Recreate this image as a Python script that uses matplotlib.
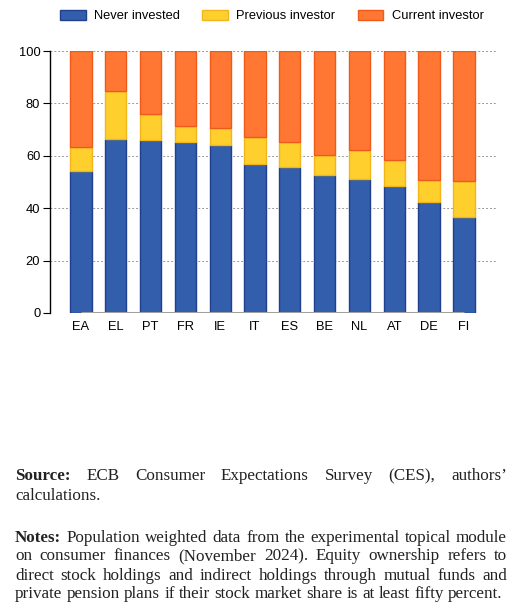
import matplotlib.pyplot as plt
import numpy as np
from matplotlib.patches import Patch

# Данные (доли респондентов, %)
countries = ["EA", "EL", "PT", "FR", "IE", "IT", "ES", "BE", "NL", "AT", "DE", "FI"]
never_invested = [54.3, 66.5, 66.2, 65.3, 64.2, 57.0, 55.9, 52.8, 51.3, 48.6, 42.5, 36.6]
previous_investor = [8.9, 18.1, 9.9, 5.9, 6.3, 10.0, 9.5, 7.4, 11.0, 9.7, 8.1, 13.7]
current_investor = [36.8, 15.4, 23.9, 28.8, 29.5, 33.0, 34.6, 39.8, 37.7, 41.7, 49.4, 49.7]
series_names = ["Never invested", "Previous investor", "Current investor"]

source_lines = [
    ("Source:", "ECB Consumer Expectations Survey (CES), authors\u2019"),
    (None, "calculations."),
]
notes_lines = [
    ("Notes:", "Population weighted data from the experimental topical module"),
    (None, "on consumer finances (November 2024). Equity ownership refers to"),
    (None, "direct stock holdings and indirect holdings through mutual funds and"),
    (None, "private pension plans if their stock market share is at least fifty percent."),
]

W, H = 517, 610
fig = plt.figure(figsize=(W / 100, H / 100), dpi=100)
ax = fig.add_axes([50 / W, 1 - 313 / H, 447 / W, 262 / H])

fills = ["#335EAC", "#FFCF2E", "#FF7733"]
edges = ["#1F3F8F", "#F2B51A", "#EE5A1C"]

x = np.arange(len(countries))
bottom = np.zeros(len(countries))
for vals, fc, ec in zip([never_invested, previous_investor, current_investor], fills, edges):
    ax.bar(x, vals, width=0.61, bottom=bottom, color=fc, edgecolor=ec, linewidth=1.0, zorder=3)
    bottom += np.array(vals)

# серая базовая линия
ax.plot([x[0], x[-1]], [0, 0], color="#A0A0A0", linewidth=2.2, zorder=4, solid_capstyle="butt")

ax.set_xlim(-0.89, 11.95)
ax.set_ylim(0, 100)
ax.set_yticks(range(0, 101, 20))
ax.set_xticks(x)
ax.set_xticklabels(countries)
ax.yaxis.grid(True, color="#9A9A9A", linestyle=(0, (2, 2)), linewidth=0.7, zorder=0)
for s in ["top", "right", "bottom"]:
    ax.spines[s].set_visible(False)
ax.spines["left"].set_linewidth(1.0)
ax.tick_params(axis="y", length=5, width=0.8, labelsize=9.3, pad=2)
ax.tick_params(axis="x", length=0, labelsize=9.3, pad=6)
for lab in ax.get_xticklabels() + ax.get_yticklabels():
    lab.set_fontfamily("Liberation Sans")

handles = [Patch(facecolor=fc, edgecolor=ec, label=n) for fc, ec, n in zip(fills, edges, series_names)]
fig.legend(handles=handles, loc="center", bbox_to_anchor=(272 / W, 1 - 16 / H), ncol=3,
           frameon=False, prop={"family": "Liberation Sans", "size": 9.3},
           handlelength=2.0, handleheight=0.85, columnspacing=1.7, handletextpad=0.65)

# Текст с выравниванием по ширине
renderer = fig.canvas.get_renderer()
left_px, right_px = 15, 507
serif = "Liberation Serif"
fsize = 10.0


def word_width(word, weight):
    t = fig.text(0, 0, word, fontsize=fsize, family=serif, weight=weight)
    w = t.get_window_extent(renderer).width
    t.remove()
    return w


def natural_width(body):
    words = body.split()
    space = word_width("a a", "normal") - 2 * word_width("a", "normal")
    return sum(word_width(w, "normal") for w in words) + space * (len(words) - 1)


# подбираем кегль так, чтобы последняя строка занимала всю ширину
fsize = fsize * (right_px - left_px) / natural_width(notes_lines[-1][1]) * 0.99


def draw_line(y_px, head, body, justify):
    words = []
    if head:
        words.append((head, "bold"))
    words += [(w, "normal") for w in body.split()]
    widths = [word_width(w, wt) for w, wt in words]
    space = word_width("a a", "normal") - 2 * word_width("a", "normal")
    if justify and len(words) > 1:
        space = (right_px - left_px - sum(widths)) / (len(words) - 1)
    xp = left_px
    for (w, wt), wd in zip(words, widths):
        fig.text(xp / W, 1 - (y_px + 4.5) / H, w, fontsize=fsize, family=serif, weight=wt,
                 va="baseline", ha="left", color="#222222")
        xp += wd + space


draw_line(476, *source_lines[0], True)
draw_line(495, *source_lines[1], False)
for i, (head, body) in enumerate(notes_lines):
    draw_line(537 + i * 19, head, body, i < len(notes_lines) - 1)

fig.savefig("out.png", dpi=100)
